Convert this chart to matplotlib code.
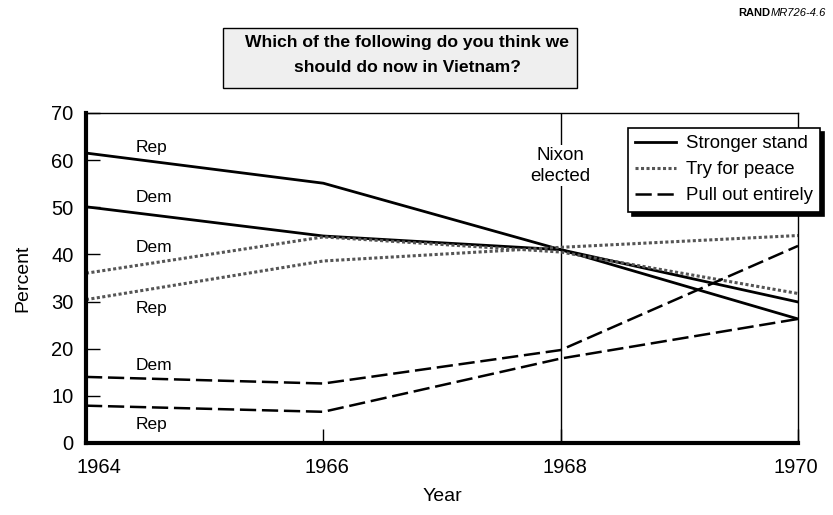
import matplotlib
matplotlib.use("Agg")
import matplotlib.pyplot as plt
import matplotlib.transforms as mtransforms
from matplotlib.patches import Rectangle

plt.rcParams['font.family'] = ['Liberation Sans', 'DejaVu Sans']

# poll data, percent
years = [1964, 1966, 1968, 1970]
stronger_rep = [61.5, 55.1, 41.0, 26.3]
stronger_dem = [50.1, 43.9, 41.0, 29.9]
peace_dem = [36.0, 43.7, 40.5, 31.7]
peace_rep = [30.4, 38.6, 41.5, 44.0]
pull_dem = [14.0, 12.6, 19.7, 41.8]
pull_rep = [7.9, 6.6, 17.9, 26.3]

yticks = [0, 10, 20, 30, 40, 50, 60, 70]
party_labels = ['Rep', 'Dem', 'Dem', 'Rep', 'Dem', 'Rep']
party_label_y = [62.6, 52.1, 41.4, 28.6, 16.4, 3.8]

fig = plt.figure(figsize=(8.33, 5.15), dpi=100)
ax = fig.add_axes([0.1032, 0.140, 0.8548, 0.6406])

solid = dict(color='black', lw=2.0, solid_joinstyle='miter')
dotted = dict(color='#555555', lw=2.2, linestyle=(0, (1, 0.8)))
dashed = dict(color='black', lw=1.8, linestyle=(0, (6.5, 2.3)))

ax.plot(years, stronger_rep, label='Stronger stand', **solid)
ax.plot(years, stronger_dem, **solid)
ax.plot(years, peace_dem, label='Try for peace', **dotted)
ax.plot(years, peace_rep, **dotted)
ax.plot(years, pull_dem, label='Pull out entirely', **dashed)
ax.plot(years, pull_rep, **dashed)

for lab, yy in zip(party_labels, party_label_y):
    ax.text(1964.42, yy, lab, fontsize=12.5, ha='left', va='center')

# Nixon marker
ax.axvline(1968, color='black', lw=1.0, zorder=1)
ax.text(1968, 58.8, 'Nixon\nelected', fontsize=13.5, ha='center', va='center',
        linespacing=1.35, bbox=dict(facecolor='white', edgecolor='none', pad=1))

ax.set_xlim(1964, 1970)
ax.set_ylim(0, 70)
ax.set_xticks(years)
ax.set_yticks(yticks)
ax.tick_params(direction='in', length=10, width=1, labelsize=14.5)
ax.tick_params(axis='x', pad=11)
ax.tick_params(axis='y', pad=9)
# small horizontal nudges of the year labels, as in the original
for lbl, dx in zip(ax.get_xticklabels(), [13, 4, 4, -2]):
    lbl.set_transform(lbl.get_transform() +
                      mtransforms.ScaledTranslation(dx / 100, 0, fig.dpi_scale_trans))
ax.spines['left'].set_linewidth(3)
ax.spines['bottom'].set_linewidth(3)
ax.spines['top'].set_linewidth(1)
ax.spines['right'].set_linewidth(1)
ax.set_xlabel('Year', fontsize=14, labelpad=8)
ax.set_ylabel('Percent', fontsize=14, labelpad=14)

leg = ax.legend(loc='upper left', bbox_to_anchor=(628 / 833, 1 - 128 / 515),
                bbox_transform=fig.transFigure, fontsize=13.4, frameon=True,
                fancybox=False, edgecolor='black', framealpha=1,
                handlelength=2.2, handletextpad=0.5, borderpad=0.4,
                labelspacing=0.48, borderaxespad=0,
                shadow={'color': 'black', 'alpha': 1, 'ox': 3, 'oy': -3})
leg.get_frame().set_linewidth(1.2)

# title box
fig.patches.append(Rectangle((223 / 833, 1 - 88 / 515), 354 / 833, 60 / 515,
                             transform=fig.transFigure, facecolor='#efefef',
                             edgecolor='black', lw=1.0))
fig.text(407 / 833, 1 - 55 / 515,
         'Which of the following do you think we\nshould do now in Vietnam?',
         ha='center', va='center', fontsize=12.6, fontweight='bold', linespacing=1.75)

# source tag
t2 = fig.text(826 / 833, 1 - 13 / 515, 'MR726-4.6', ha='right', va='center',
              fontsize=8, style='italic')
fig.canvas.draw()
bb = t2.get_window_extent()
fig.text(bb.x0 / fig.bbox.width, 1 - 13 / 515, 'RAND', ha='right', va='center',
         fontsize=8, fontweight='bold')

fig.savefig('out.png', dpi=100)
